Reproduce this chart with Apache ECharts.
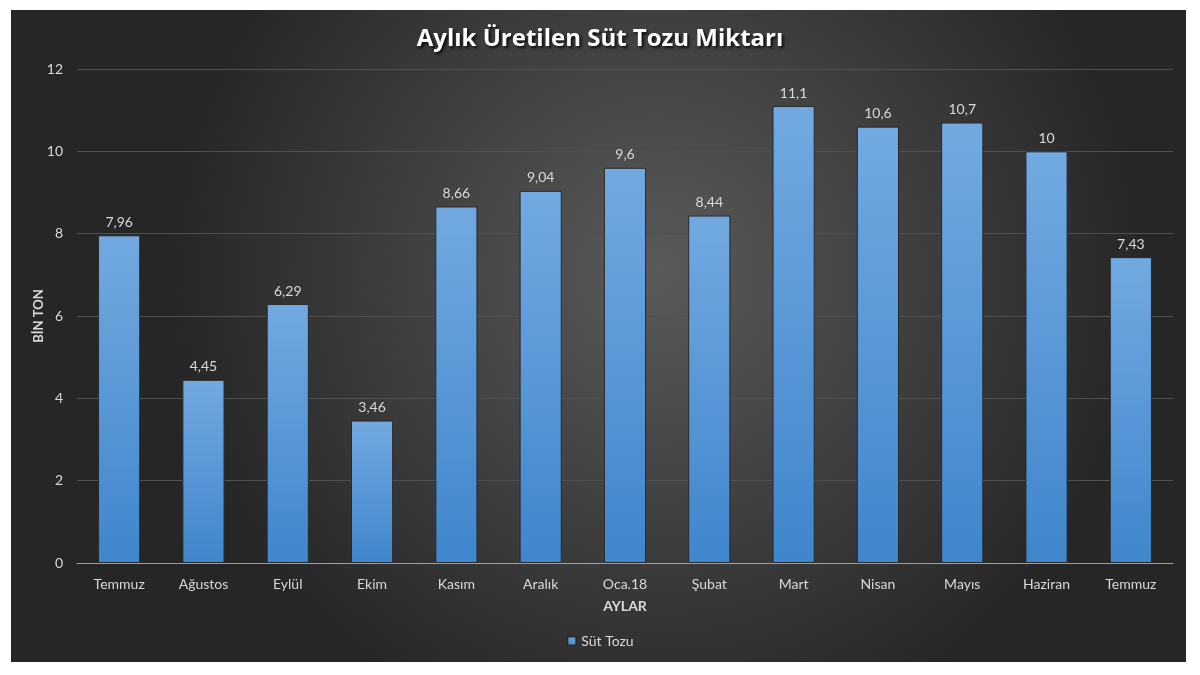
<!DOCTYPE html>
<html><head><meta charset="utf-8">
<script src="https://cdn.jsdelivr.net/npm/echarts@6/dist/echarts.min.js"></script>
<style>html,body{margin:0;padding:0;background:#fff}#c{width:1200px;height:675px}</style>
</head><body><div id="c"></div>
<script>
const categories = ['Temmuz','Ağustos','Eylül','Ekim','Kasım','Aralık','Oca.18','Şubat','Mart','Nisan','Mayıs','Haziran','Temmuz'];
const sutTozu = [7.96, 4.45, 6.29, 3.46, 8.66, 9.04, 9.6, 8.44, 11.1, 10.6, 10.7, 10, 7.43];
const yTicks = [0, 2, 4, 6, 8, 10, 12];

const FONT = 'Lato, "Open Sans", sans-serif';
const chart = echarts.init(document.getElementById('c'));
chart.setOption({
  backgroundColor: '#ffffff',
  graphic: [{
    type: 'rect', z: -100, silent: true,
    shape: {x: 11, y: 10, width: 1175, height: 652},
    style: {
      fill: new echarts.graphic.RadialGradient(0.55, 0.4, 0.75, [
        {offset: 0, color: '#5a5a5a'},
        {offset: 1, color: '#262626'}
      ])
    }
  }],
  title: {
    text: 'Aylık Üretilen Süt Tozu Miktarı',
    left: 'center', top: 22,
    textStyle: {
      color: '#ffffff', fontSize: 24, fontWeight: 'bold', fontFamily: '"Open Sans", sans-serif',
      textShadowColor: 'rgba(0,0,0,0.8)', textShadowBlur: 3, textShadowOffsetX: 2, textShadowOffsetY: 2
    }
  },
  legend: {
    bottom: 22, left: 'center',
    icon: 'rect', itemWidth: 9, itemHeight: 9, itemGap: 6,
    textStyle: {color: '#d9d9d9', fontSize: 14, fontFamily: FONT},
    data: ['Süt Tozu']
  },
  grid: {left: 77, right: 27, top: 69, bottom: 112},
  xAxis: {
    type: 'category', data: categories,
    name: 'AYLAR', nameLocation: 'middle', nameGap: 36,
    nameTextStyle: {color: '#d9d9d9', fontSize: 14, fontWeight: 'bold', fontFamily: FONT},
    axisLine: {lineStyle: {color: '#a0a0a0', width: 1}},
    axisTick: {show: false},
    axisLabel: {color: '#d9d9d9', fontSize: 14, margin: 14, fontFamily: FONT, interval: 0}
  },
  yAxis: {
    type: 'value', min: 0, max: 12, interval: 2,
    name: 'BİN TON', nameLocation: 'middle', nameGap: 32, nameRotate: 90,
    nameMoveOverlap: false,
    nameTextStyle: {color: '#d9d9d9', fontSize: 13, fontWeight: 'bold', fontFamily: FONT},
    axisLine: {show: false}, axisTick: {show: false},
    axisLabel: {color: '#d9d9d9', fontSize: 14, margin: 14, fontFamily: FONT,
      formatter: v => yTicks.includes(v) ? String(v) : ''},
    splitLine: {lineStyle: {color: '#505050', width: 1}}
  },
  series: [{
    name: 'Süt Tozu', type: 'bar', data: sutTozu,
    barWidth: '50%',
    itemStyle: {
      color: new echarts.graphic.LinearGradient(0, 0, 0, 1, [
        {offset: 0, color: '#72a9e1'},
        {offset: 1, color: '#3f86cc'}
      ]),
      borderColor: '#2a2a2a', borderWidth: 1
    },
    label: {
      show: true, position: 'top', distance: 6,
      color: '#d9d9d9', fontSize: 14, fontFamily: FONT,
      formatter: p => String(p.value).replace('.', ',')
    }
  }]
});
</script></body></html>
